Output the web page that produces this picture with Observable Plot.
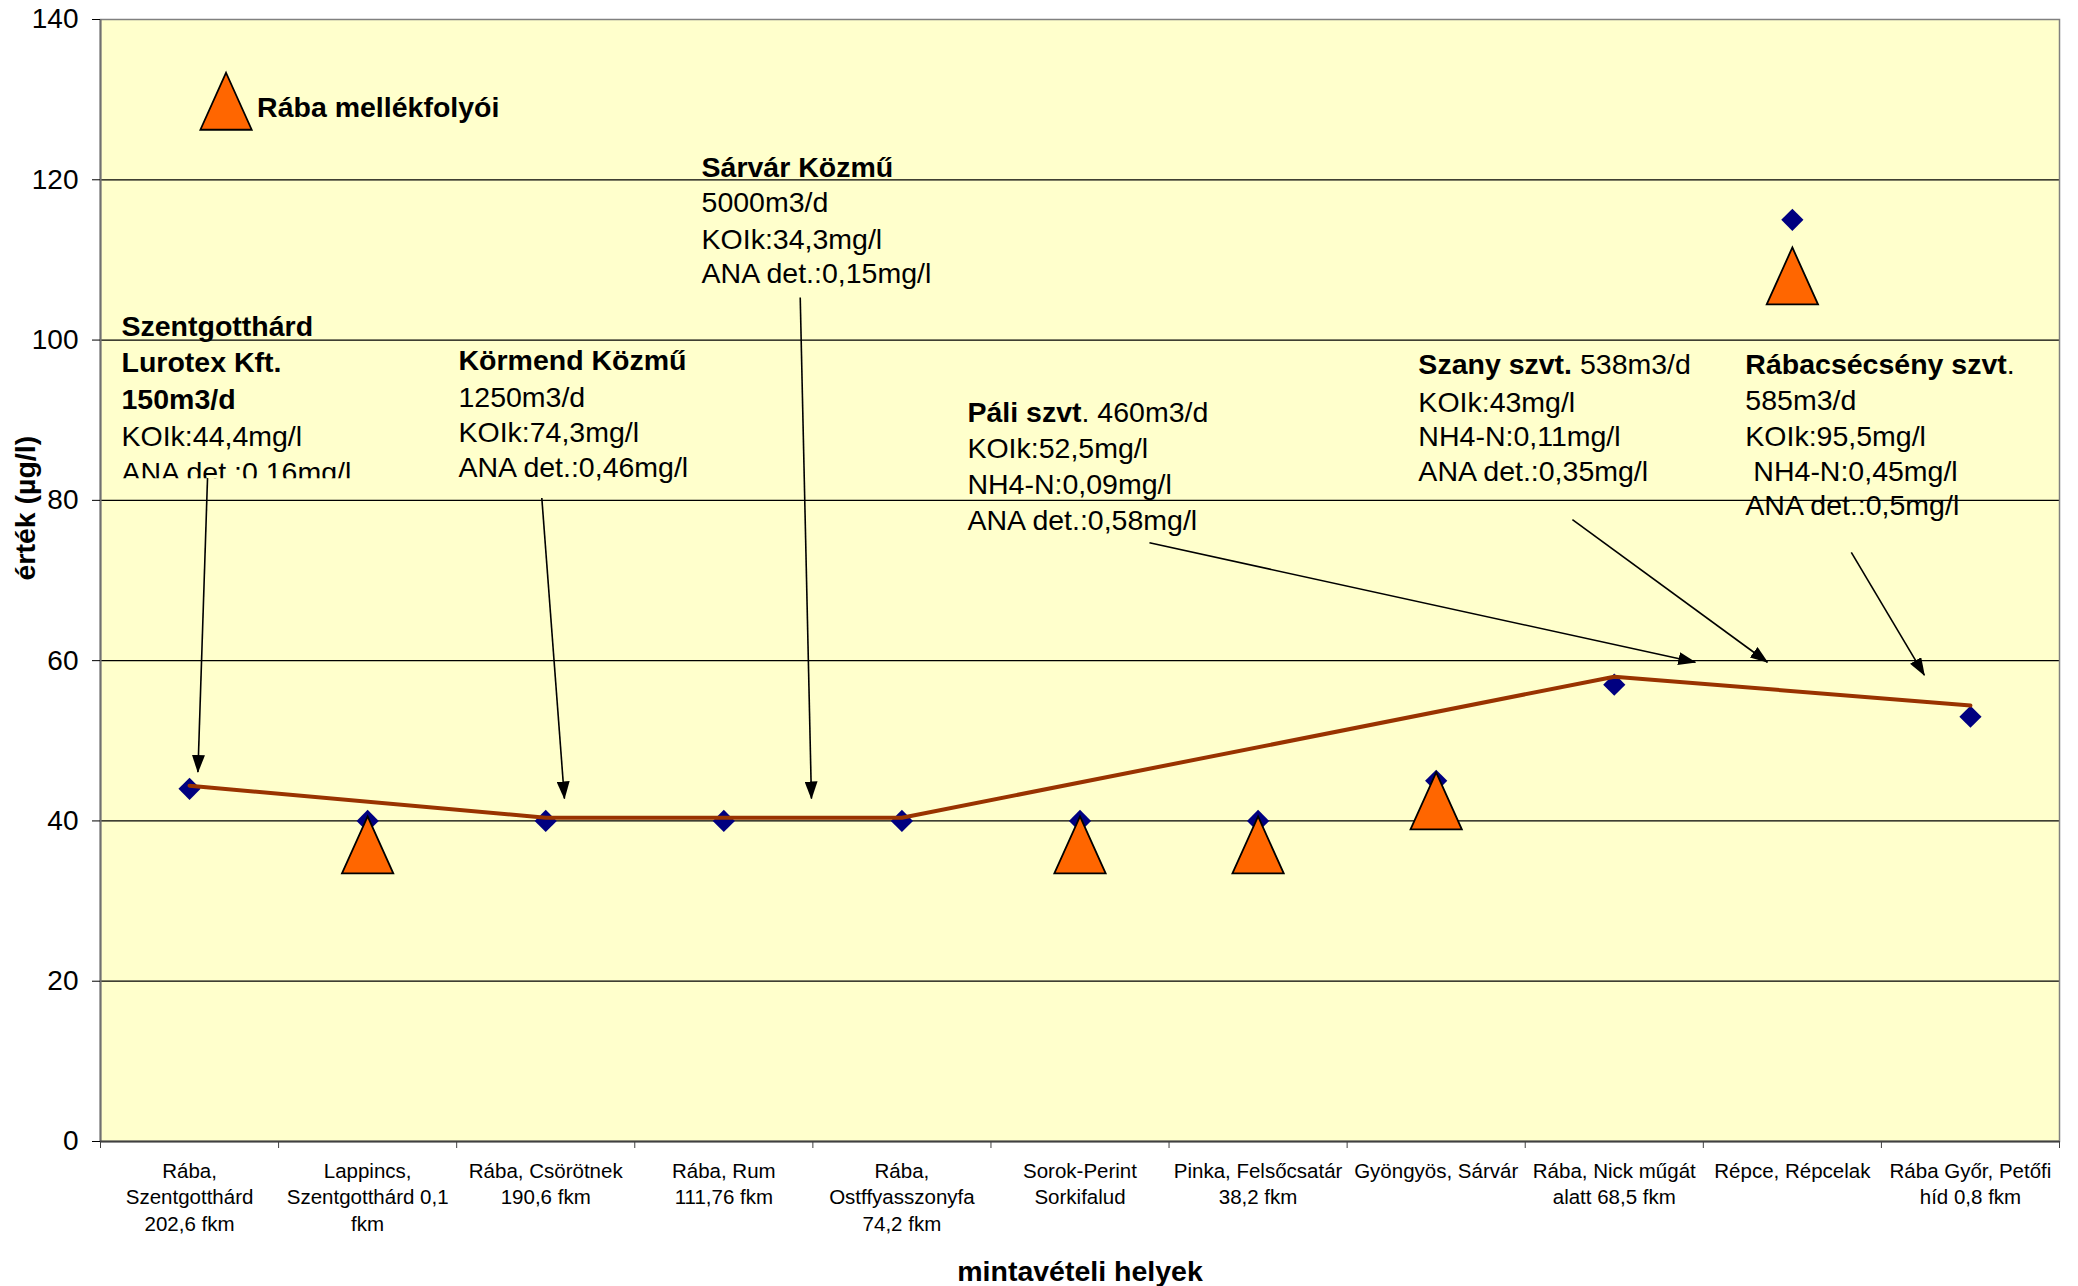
<!DOCTYPE html>
<html>
<head>
<meta charset="utf-8">
<script src="https://cdn.jsdelivr.net/npm/d3@7"></script>
<script src="https://cdn.jsdelivr.net/npm/@observablehq/plot@0.6"></script>
<style>
  html, body { margin: 0; padding: 0; background: #ffffff; overflow: hidden; }
  #chart svg { display: block; }
</style>
</head>
<body>
<div id="chart"></div>
<script>
// ---------- data ----------
const categories = [
  "Rába,\nSzentgotthárd\n202,6 fkm",
  "Lappincs,\nSzentgotthárd 0,1\nfkm",
  "Rába, Csörötnek\n190,6 fkm",
  "Rába, Rum\n111,76 fkm",
  "Rába,\nOstffyasszonyfa\n74,2 fkm",
  "Sorok-Perint\nSorkifalud",
  "Pinka, Felsőcsatár\n38,2 fkm",
  "Gyöngyös, Sárvár",
  "Rába, Nick műgát\nalatt 68,5 fkm",
  "Répce, Répcelak",
  "Rába Győr, Petőfi\nhíd 0,8 fkm"
];
const diamondValues  = [44, 40, 40, 40, 40, 40, 40, 45, 57, 115, 53];
const triangleValues = [null, 37, null, null, null, 37, 37, 42.5, null, 108, null];
const lineValues     = [44.4, null, 40.4, 40.4, 40.4, null, null, null, 58.0, null, 54.4];
const yTicks = [0, 20, 40, 60, 80, 100, 120, 140];
const legendLabel = "Rába mellékfolyói";
const legendPos = [{x: 0.205, y: 129.8}];

// annotation text lines (x in category units, y in value units)
const noteSzentgotthard = [
  {x: -0.382, y: 101.7, bold: "Szentgotthárd", normal: ""},
  {x: -0.382, y: 97.1,  bold: "Lurotex Kft.", normal: ""},
  {x: -0.382, y: 92.5,  bold: "150m3/d", normal: ""},
  {x: -0.382, y: 87.9,  bold: "", normal: "KOIk:44,4mg/l"},
  {x: -0.382, y: 83.4,  bold: "", normal: "ANA det.:0,16mg/l", clipBelow: 82.75}
];
const noteKormend = [
  {x: 1.51, y: 97.4, bold: "Körmend Közmű", normal: ""},
  {x: 1.51, y: 92.8, bold: "", normal: "1250m3/d"},
  {x: 1.51, y: 88.4, bold: "", normal: "KOIk:74,3mg/l"},
  {x: 1.51, y: 84.0, bold: "", normal: "ANA det.:0,46mg/l"}
];
const noteSarvar = [
  {x: 2.875, y: 121.5, bold: "Sárvár Közmű", normal: ""},
  {x: 2.875, y: 117.1, bold: "", normal: "5000m3/d"},
  {x: 2.875, y: 112.5, bold: "", normal: "KOIk:34,3mg/l"},
  {x: 2.875, y: 108.2, bold: "", normal: "ANA det.:0,15mg/l"}
];
const notePali = [
  {x: 4.368, y: 90.9, bold: "Páli szvt", normal: ". 460m3/d"},
  {x: 4.368, y: 86.4, bold: "", normal: "KOIk:52,5mg/l"},
  {x: 4.368, y: 81.9, bold: "", normal: "NH4-N:0,09mg/l"},
  {x: 4.368, y: 77.5, bold: "", normal: "ANA det.:0,58mg/l"}
];
const noteSzany = [
  {x: 6.9, y: 96.9, bold: "Szany szvt.", normal: " 538m3/d"},
  {x: 6.9, y: 92.2, bold: "", normal: "KOIk:43mg/l"},
  {x: 6.9, y: 87.9, bold: "", normal: "NH4-N:0,11mg/l"},
  {x: 6.9, y: 83.6, bold: "", normal: "ANA det.:0,35mg/l"}
];
const noteRabacsecseny = [
  {x: 8.736, y: 96.9, bold: "Rábacsécsény szvt", normal: "."},
  {x: 8.736, y: 92.4, bold: "", normal: "585m3/d"},
  {x: 8.736, y: 87.9, bold: "", normal: "KOIk:95,5mg/l"},
  {x: 8.781, y: 83.6, bold: "", normal: "NH4-N:0,45mg/l"},
  {x: 8.736, y: 79.3, bold: "", normal: "ANA det.:0,5mg/l"}
];
const annotationArrows = [
  {x1: 0.101, y1: 82.8,  x2: 0.047, y2: 46.1},
  {x1: 1.978, y1: 80.3,  x2: 2.105, y2: 42.8},
  {x1: 3.429, y1: 105.3, x2: 3.492, y2: 42.8},
  {x1: 5.390, y1: 74.7,  x2: 8.455, y2: 59.8},
  {x1: 7.765, y1: 77.6,  x2: 8.860, y2: 59.8},
  {x1: 9.331, y1: 73.5,  x2: 9.741, y2: 58.2}
];
const xTitle = "mintavételi helyek";
const yTitle = "érték (µg/l)";

// ---------- derived tables ----------
const idx = d3.range(categories.length);
const diamonds = idx.map(i => ({x: i, y: diamondValues[i]}));
const triangles = idx.filter(i => triangleValues[i] != null).map(i => ({x: i, y: triangleValues[i]}));
const linePts = idx.filter(i => lineValues[i] != null).map(i => ({x: i, y: lineValues[i]}));
const boundaries = d3.range(-0.5, categories.length, 1);
const notes = [...noteSzentgotthard, ...noteKormend, ...noteSarvar, ...notePali, ...noteSzany, ...noteRabacsecseny];

// tall isosceles triangle symbol (Excel-like)
const tallTriangle = {
  draw(ctx, size) {
    const r = Math.sqrt(size / Math.PI);
    const w = r * 0.9;
    ctx.moveTo(0, -r);
    ctx.lineTo(w, r);
    ctx.lineTo(-w, r);
    ctx.closePath();
  }
};

const FONT = "'Liberation Sans', Arial, Helvetica, sans-serif";
const plot = Plot.plot({
  width: 2078,
  height: 1286,
  marginLeft: 100,
  marginRight: 19,
  marginTop: 19,
  marginBottom: 145,
  style: {fontFamily: FONT, background: "#ffffff", color: "#000000", overflow: "visible"},
  x: {domain: [-0.5, categories.length - 0.5], axis: null},
  y: {domain: [0, 140], axis: null},
  marks: [
    Plot.frame({fill: "#FFFFCC", stroke: null}),
    Plot.gridY(yTicks.filter(d => d > 0 && d < 140), {stroke: "#000000", strokeOpacity: 1, strokeWidth: 1.2}),
    Plot.frame({stroke: "#808080", strokeWidth: 1.5}),
    Plot.ruleX([-0.5], {stroke: "#707070", strokeWidth: 2}),
    Plot.ruleY([0], {stroke: "#404040", strokeWidth: 2}),
    Plot.axisY(yTicks, {tickSize: 8, tickPadding: 14, fontSize: 28, stroke: "#000000"}),
    Plot.axisX(boundaries, {tickSize: 7, tickFormat: () => "", stroke: "#404040"}),
    Plot.text(categories, {x: (d, i) => i, text: d => d, frameAnchor: "bottom", lineAnchor: "top",
      dy: 18, fontSize: 20.5, lineHeight: 1.28, fill: "#000000"}),
    Plot.text([xTitle], {frameAnchor: "bottom", dy: 130, lineAnchor: "middle", fontSize: 28.5, fontWeight: "bold"}),
    Plot.text([yTitle], {frameAnchor: "left", dx: -75, rotate: -90, lineAnchor: "middle", fontSize: 28.5, fontWeight: "bold"}),
    // annotation arrows
    Plot.link(annotationArrows, {x1: "x1", y1: "y1", x2: "x2", y2: "y2", stroke: "#000000", strokeWidth: 1.6}),
    // annotation texts
    Plot.text(notes, {x: "x", y: "y", text: d => d.bold + d.normal, textAnchor: "start", lineAnchor: "middle",
      fontSize: 28.5, fill: "#000000"}),
    // series
    Plot.dot(diamonds, {x: "x", y: "y", symbol: "diamond2", r: 10, fill: "#000080", stroke: "none"}),
    Plot.line(linePts, {x: "x", y: "y", stroke: "#993300", strokeWidth: 4}),
    Plot.dot(triangles, {x: "x", y: "y", symbol: tallTriangle, r: 28.5, fill: "#FF6600", stroke: "#000000", strokeWidth: 1.8}),
    // legend
    Plot.dot(legendPos, {x: "x", y: "y", symbol: tallTriangle, r: 28.5, fill: "#FF6600", stroke: "#000000", strokeWidth: 1.8}),
    Plot.text(legendPos, {x: "x", y: "y", text: () => legendLabel, dx: 31, dy: 7, textAnchor: "start",
      lineAnchor: "middle", fontSize: 28.5, fontWeight: "bold"})
  ]
});

document.getElementById("chart").appendChild(plot);

// ---------- post-processing: arrowheads, mixed-weight lines, clipping ----------
const ns = "http://www.w3.org/2000/svg";
const defs = document.createElementNS(ns, "defs");
const yScale = plot.scale("y");
defs.innerHTML =
  '<marker id="ah" viewBox="0 0 18 13" refX="17" refY="6.5" markerWidth="18" markerHeight="13" markerUnits="userSpaceOnUse" orient="auto">' +
  '<path d="M0,0L18,6.5L0,13Z" fill="#000"/></marker>';
plot.insertBefore(defs, plot.firstChild);
plot.querySelectorAll('g[aria-label="link"] path').forEach(p => p.setAttribute("marker-end", "url(#ah)"));

const allTexts = Array.from(plot.querySelectorAll("text"));
notes.forEach((n, k) => {
  const full = n.bold + n.normal;
  const el = allTexts.find(t => t.textContent === full);
  if (!el) return;
  if (n.bold && n.normal) {
    el.textContent = "";
    const a = document.createElementNS(ns, "tspan");
    a.setAttribute("font-weight", "bold");
    a.textContent = n.bold;
    const b = document.createElementNS(ns, "tspan");
    b.setAttribute("font-weight", "normal");
    b.setAttribute("style", "white-space:pre");
    b.textContent = n.normal;
    el.appendChild(a); el.appendChild(b);
  } else if (n.bold) {
    el.setAttribute("font-weight", "bold");
  }
  if (n.clipBelow != null) {
    const cp = document.createElementNS(ns, "clipPath");
    cp.setAttribute("id", "clipnote" + k);
    const r = document.createElementNS(ns, "rect");
    r.setAttribute("x", 0); r.setAttribute("y", 0);
    r.setAttribute("width", 2078); r.setAttribute("height", yScale.apply(n.clipBelow));
    cp.appendChild(r);
    defs.appendChild(cp);
    const g = document.createElementNS(ns, "g");
    g.setAttribute("clip-path", "url(#clipnote" + k + ")");
    el.parentNode.insertBefore(g, el);
    g.appendChild(el);
  }
});
</script>
</body>
</html>
